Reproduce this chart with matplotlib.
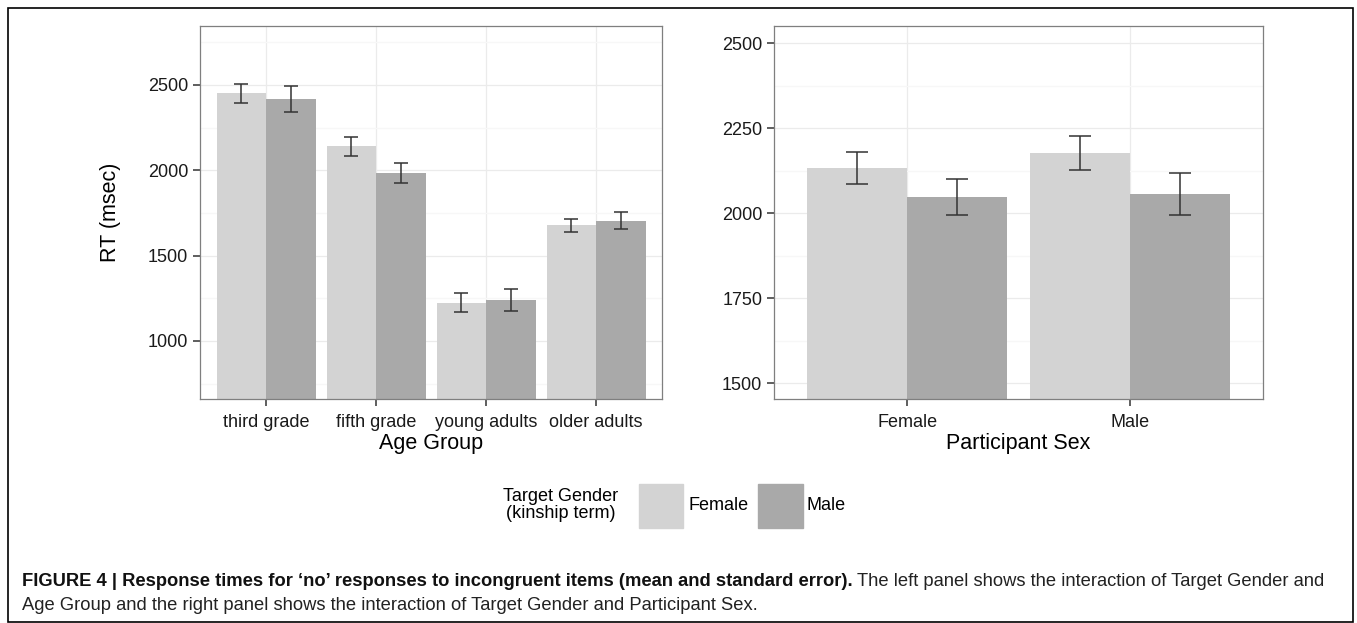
import numpy as np
import matplotlib
matplotlib.use("Agg")
import matplotlib.pyplot as plt
from matplotlib.patches import Rectangle

plt.rcParams['font.family'] = ['Liberation Sans', 'DejaVu Sans']

# data
age_groups = ["third grade", "fifth grade", "young adults", "older adults"]
age_female = [2450, 2140, 1225, 1677]
age_female_se = [57, 54, 54, 36]
age_male = [2417, 1983, 1240, 1704]
age_male_se = [77, 60, 64, 51]

sex_groups = ["Female", "Male"]
sex_female = [2132, 2176]
sex_female_se = [48, 50]
sex_male = [2048, 2056]
sex_male_se = [53, 62]

col_f = "#D3D3D3"
col_m = "#A9A9A9"
W, H = 1357, 623

fig = plt.figure(figsize=(W / 100, H / 100), dpi=100)

def fx(px):
    return px / W

def fy(py):
    return 1 - py / H

ax1 = fig.add_axes([fx(200), fy(399), fx(462), (399 - 26) / H])
ax2 = fig.add_axes([fx(774), fy(399), fx(489), (399 - 26) / H])


def panel(ax, cats, fem, fem_se, mal, mal_se, ylim, major, minor, cap):
    x = np.arange(len(cats))
    bw = 0.45
    ax.bar(x - bw / 2, fem, bw, color=col_f, zorder=2, bottom=0)
    ax.bar(x + bw / 2, mal, bw, color=col_m, zorder=2, bottom=0)
    ax.errorbar(x - bw / 2, fem, yerr=fem_se, fmt="none", ecolor="#333333",
                elinewidth=1.1, capsize=cap, capthick=1.1, zorder=3)
    ax.errorbar(x + bw / 2, mal, yerr=mal_se, fmt="none", ecolor="#333333",
                elinewidth=1.1, capsize=cap, capthick=1.1, zorder=3)
    ax.set_xlim(-0.6, len(cats) - 0.4)
    ax.set_ylim(*ylim)
    ax.set_xticks(x)
    ax.set_xticklabels(cats)
    ax.set_yticks(major)
    ax.set_yticks(minor, minor=True)
    ax.tick_params(axis="y", which="minor", length=0)
    ax.tick_params(axis="both", which="major", length=5, width=1.1, pad=3.5,
                   color="#333333", labelsize=13, labelcolor="#1a1a1a")
    ax.tick_params(axis="x", which="major", pad=5.5)
    ax.grid(True, which="major", color="#EBEBEB", lw=0.9, zorder=0)
    ax.grid(True, which="minor", axis="y", color="#F7F7F7", lw=0.9, zorder=0)
    ax.set_axisbelow(True)
    for s in ax.spines.values():
        s.set_color("#7F7F7F")
        s.set_linewidth(0.9)


panel(ax1, age_groups, age_female, age_female_se, age_male, age_male_se,
      (660, 2845), [1000, 1500, 2000, 2500], [750, 1250, 1750, 2250, 2750], 5)
panel(ax2, sex_groups, sex_female, sex_female_se, sex_male, sex_male_se,
      (1453, 2550), [1500, 1750, 2000, 2250, 2500],
      [1625, 1875, 2125, 2375], 8)

ax1.set_xlabel("Age Group", fontsize=15.5, labelpad=1.5)
ax1.set_ylabel("RT (msec)", fontsize=15.5, labelpad=19)
ax2.set_xlabel("Participant Sex", fontsize=15.5, labelpad=1.5)

# legend
fig.text(fx(561), fy(505), "Target Gender\n(kinship term)", fontsize=13,
         ha="center", va="center", linespacing=1.0)
fig.add_artist(Rectangle((fx(639), fy(528)), fx(44), 44 / H,
                         transform=fig.transFigure, color=col_f))
fig.text(fx(688), fy(506), "Female", fontsize=13, va="center")
fig.add_artist(Rectangle((fx(758), fy(528)), fx(45), 44 / H,
                         transform=fig.transFigure, color=col_m))
fig.text(fx(807), fy(506), "Male", fontsize=13, va="center")

# caption
fig.canvas.draw()
r = fig.canvas.get_renderer()
t1 = fig.text(fx(22), fy(581), "FIGURE 4 | Response times for \u2018no\u2019 responses to "
              "incongruent items (mean and standard error).", fontsize=13.2,
              fontweight="bold", va="center", color="#111111")
bb = t1.get_window_extent(renderer=r)
fig.text(bb.x1 / W + fx(4), fy(581), "The left panel shows the interaction of "
         "Target Gender and", fontsize=13.2, va="center", color="#222222")
fig.text(fx(22), fy(605), "Age Group and the right panel shows the interaction "
         "of Target Gender and Participant Sex.", fontsize=13.2, va="center",
         color="#222222")

# outer frame
fig.add_artist(Rectangle((fx(8), 0.002), fx(1345), fy(8) - 0.002,
                         transform=fig.transFigure, fill=False,
                         edgecolor="black", lw=1.2))

fig.savefig("out.png", dpi=100)
